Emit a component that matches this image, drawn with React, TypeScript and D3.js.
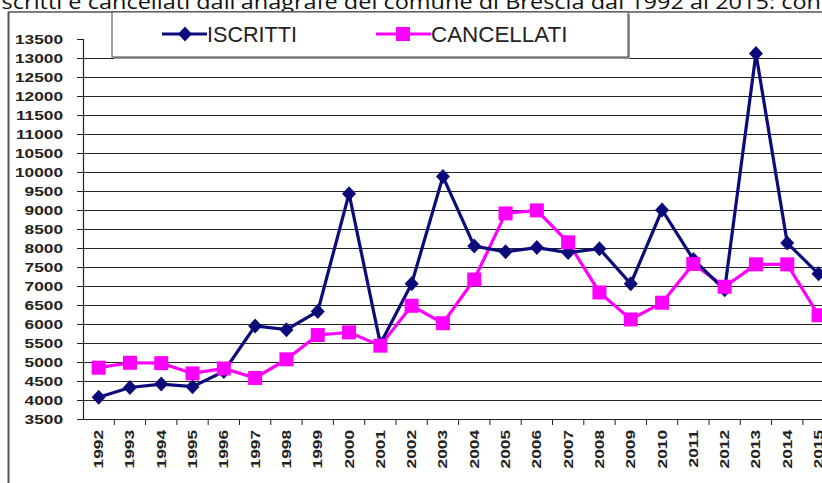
import React, { FC } from "react";
import { scaleBand, scaleLinear, line, range } from "d3";

const years = [
  "1992", "1993", "1994", "1995", "1996", "1997", "1998", "1999",
  "2000", "2001", "2002", "2003", "2004", "2005", "2006", "2007",
  "2008", "2009", "2010", "2011", "2012", "2013", "2014", "2015",
];

const iscritti = [
  4070, 4330, 4420, 4350, 4750, 5950, 5850, 6330,
  9430, 5480, 7060, 9880, 8050, 7900, 8010, 7880,
  7980, 7060, 9000, 7700, 6900, 13120, 8130, 7320,
];

const cancellati = [
  4850, 4980, 4970, 4700, 4830, 4580, 5070, 5710,
  5780, 5430, 6480, 6020, 7170, 8910, 8990, 8150,
  6830, 6120, 6560, 7580, 6980, 7570, 7570, 6230,
];

const yTicks = range(3500, 13501, 500);

const title =
  "Iscritti e cancellati dall'anagrafe del comune di Brescia dal 1992 al 2015: con";

const NAVY = "#0b0b7a";
const PINK = "#ff00ff";

const W = 822;
const H = 483;
const stretch = 1.33;

const App: FC = () => {
  const x = scaleBand<string>()
    .domain(years)
    .range([83, 83 + years.length * 31.3]);
  const y = scaleLinear().domain([3500, 13500]).range([419, 39]);
  const cx = (yr: string) => (x(yr) ?? 0) + x.bandwidth() / 2;

  const path = line<number>()
    .x((_, i) => cx(years[i]))
    .y((d) => y(d));

  const axisFont = {
    fontFamily: "'Liberation Sans', Arial, sans-serif",
    fontWeight: 700,
    fontSize: 13,
    fill: "#222",
  };

  return (
    <svg
      width={W}
      height={H}
      style={{ position: "absolute", left: 0, top: 0, background: "#fff" }}
    >
      <text
        x={-5}
        y={9}
        textLength={826}
        lengthAdjust="spacingAndGlyphs"
        style={{ fontFamily: "'Open Sans', 'Noto Sans', sans-serif", fontSize: 20, fill: "#111" }}
      >
        {title}
      </text>

      {/* outer chart frame */}
      <line x1={8} x2={W} y1={12} y2={12} stroke="#555" strokeWidth={1.5} />
      <line x1={8.5} x2={8.5} y1={12} y2={H} stroke="#555" strokeWidth={2} />

      {/* gridlines */}
      {yTicks
        .filter((t) => t > 3500 && t < 13500)
        .map((t) => (
          <line
            key={"g" + t}
            x1={83}
            x2={W}
            y1={Math.round(y(t)) + 0.5}
            y2={Math.round(y(t)) + 0.5}
            stroke="#222"
            strokeWidth={1.2}
          />
        ))}

      {/* y axis */}
      <line x1={83.5} x2={83.5} y1={y(13500)} y2={y(3500)} stroke="#222" strokeWidth={1.2} />
      {yTicks.map((t) => (
        <g key={"yt" + t}>
          <line x1={77} x2={83} y1={Math.round(y(t)) + 0.5} y2={Math.round(y(t)) + 0.5} stroke="#222" />
          <text
            transform={`translate(63,${y(t) + 4.5}) scale(${stretch},1)`}
            textAnchor="end"
            style={axisFont}
          >
            {t}
          </text>
        </g>
      ))}

      {/* x axis */}
      <line x1={83} x2={W} y1={419.5} y2={419.5} stroke="#222" strokeWidth={1.2} />
      {years.map((yr) => (
        <g key={"xt" + yr}>
          <line
            x1={(x(yr) ?? 0) + x.bandwidth()}
            x2={(x(yr) ?? 0) + x.bandwidth()}
            y1={419}
            y2={425}
            stroke="#222"
          />
          <text
            transform={`translate(${cx(yr) + 4.5},430) rotate(-90) scale(${stretch},1)`}
            textAnchor="end"
            style={axisFont}
          >
            {yr}
          </text>
        </g>
      ))}

      {/* series */}
      <path d={path(cancellati) ?? ""} fill="none" stroke={PINK} strokeWidth={3.2} />
      <path d={path(iscritti) ?? ""} fill="none" stroke={NAVY} strokeWidth={3.2} />
      {iscritti.map((v, i) => (
        <path
          key={"d" + i}
          d={`M${cx(years[i])},${y(v) - 7.5}l7,7.5l-7,7.5l-7,-7.5z`}
          fill={NAVY}
        />
      ))}
      {cancellati.map((v, i) => (
        <rect
          key={"s" + i}
          x={cx(years[i]) - 7}
          y={y(v) - 7}
          width={14}
          height={14}
          fill={PINK}
        />
      ))}

      {/* legend */}
      <rect x={114} y={14} width={516} height={45} fill="#999" />
      <rect x={112} y={12} width={516} height={45} fill="#fff" stroke="#444" strokeWidth={1} />
      <line x1={162} x2={207} y1={34} y2={34} stroke={NAVY} strokeWidth={3.2} />
      <path d="M185,26.5l7,7.5l-7,7.5l-7,-7.5z" fill={NAVY} />
      <text
        transform="translate(207,42) scale(1.08,1.1)"
        style={{ fontFamily: "'Liberation Sans', Arial, sans-serif", fontSize: 20, fill: "#222" }}
      >
        ISCRITTI
      </text>
      <line x1={376} x2={431} y1={34} y2={34} stroke={PINK} strokeWidth={3.2} />
      <rect x={396} y={27} width={14} height={14} fill={PINK} />
      <text
        transform="translate(431,42) scale(1.12,1.1)"
        style={{ fontFamily: "'Liberation Sans', Arial, sans-serif", fontSize: 20, fill: "#222" }}
      >
        CANCELLATI
      </text>
    </svg>
  );
};

export default App;
